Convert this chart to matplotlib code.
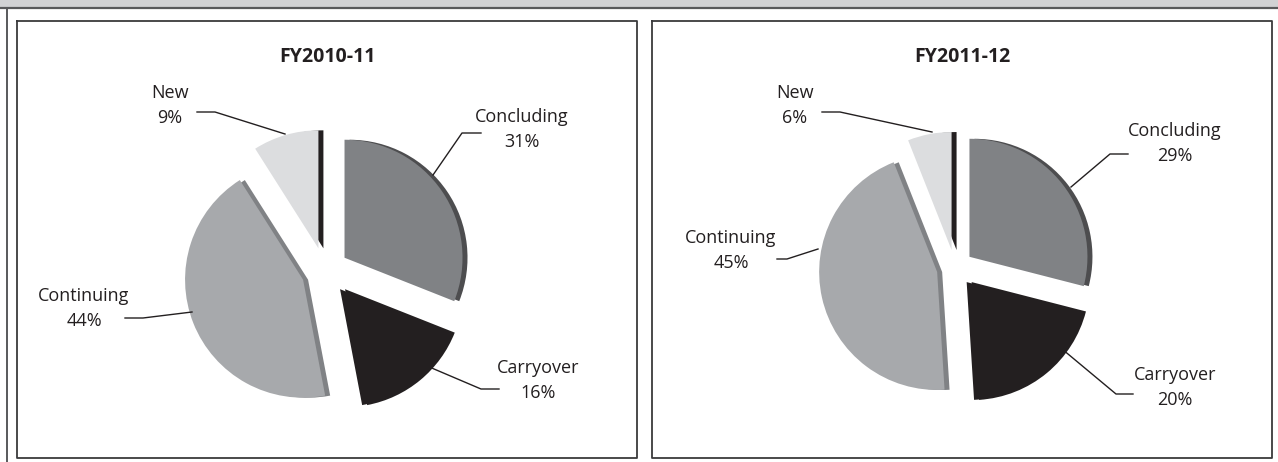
import matplotlib
matplotlib.use("Agg")
import matplotlib.pyplot as plt

W, H = 1278, 462

labels = ["Concluding", "Carryover", "Continuing", "New"]
fy1011 = [31, 16, 44, 9]
fy1112 = [29, 20, 45, 6]
titles = ["FY2010-11", "FY2011-12"]

face = ["#808285", "#231f20", "#a7a9ac", "#dcdddf"]
side = ["#4d4d4f", "#231f20", "#808285", "#231f20"]

plt.rcParams["font.family"] = ["Open Sans", "DejaVu Sans"]
fig = plt.figure(figsize=(W / 100, H / 100), dpi=100)

R = 118.0
HALF = 1.4


def pie_axes(cx, cy):
    half = HALF * R
    ax = fig.add_axes([(cx - half) / W, (H - cy - half) / H, 2 * half / W, 2 * half / H])
    ax.axis("off")
    return ax


def draw_pie(ax, vals, expl):
    off = 5.0 / R
    ax.pie(vals, colors=side, explode=[expl] * 4, startangle=90, counterclock=False,
           center=(off, 0), wedgeprops=dict(linewidth=0))
    ax.pie(vals, colors=face, explode=[expl] * 4, startangle=90, counterclock=False,
           wedgeprops=dict(linewidth=0))
    ax.set_xlim(-HALF, HALF)
    ax.set_ylim(-HALF, HALF)


ax1 = pie_axes(325, 271)
draw_pie(ax1, fy1011, 0.2)
ax2 = pie_axes(955, 268)
draw_pie(ax2, fy1112, 0.155)

# overlay in pixel coordinates for frames, titles, labels and leaders
ov = fig.add_axes([0, 0, 1, 1], zorder=5)
ov.set_xlim(0, W)
ov.set_ylim(H, 0)
ov.axis("off")

ov.fill_between([0, W], 0, 7.5, color="#d1d2d4", lw=0)
ov.plot([0, W], [7.5, 7.5], color="#58595b", lw=1.6)
ov.plot([7, 7], [7.5, H], color="#58595b", lw=1.4)
for x0, x1 in [(17, 637), (652, 1272)]:
    ov.plot([x0, x1, x1, x0, x0], [21, 21, 458, 458, 21], color="#3a3a3c", lw=1.3)

ov.text(327, 57, titles[0], ha="center", va="center", fontsize=14, fontweight="bold", color="#231f20")
ov.text(962, 57, titles[1], ha="center", va="center", fontsize=14, fontweight="bold", color="#231f20")

# label layout: (text x, first line y, leader points)
lay1 = [
    (522, 117, [(481, 133), (462, 133), (433, 175)]),
    (538, 368, [(499, 389), (481, 389), (427, 366)]),
    (84, 296, [(125, 318), (143, 318), (192, 312)]),
    (170, 93, [(197, 112), (215, 112), (285, 134)]),
]
lay2 = [
    (1175, 131, [(1128, 154), (1110, 154), (1071, 187)]),
    (1175, 375, [(1133, 394), (1116, 394), (1062, 349)]),
    (731, 238, [(777, 259), (787, 259), (818, 249)]),
    (795, 93, [(822, 112), (840, 112), (932, 132)]),
]

for vals, lay in [(fy1011, lay1), (fy1112, lay2)]:
    for name, v, (tx, ty, pts) in zip(labels, vals, lay):
        ov.text(tx, ty, name, ha="center", va="center", fontsize=13, color="#231f20")
        ov.text(tx, ty + 25, f"{v}%", ha="center", va="center", fontsize=13, color="#231f20")
        ov.plot([p[0] for p in pts], [p[1] for p in pts], color="#231f20", lw=1.0)

fig.savefig("out.png", dpi=100)
